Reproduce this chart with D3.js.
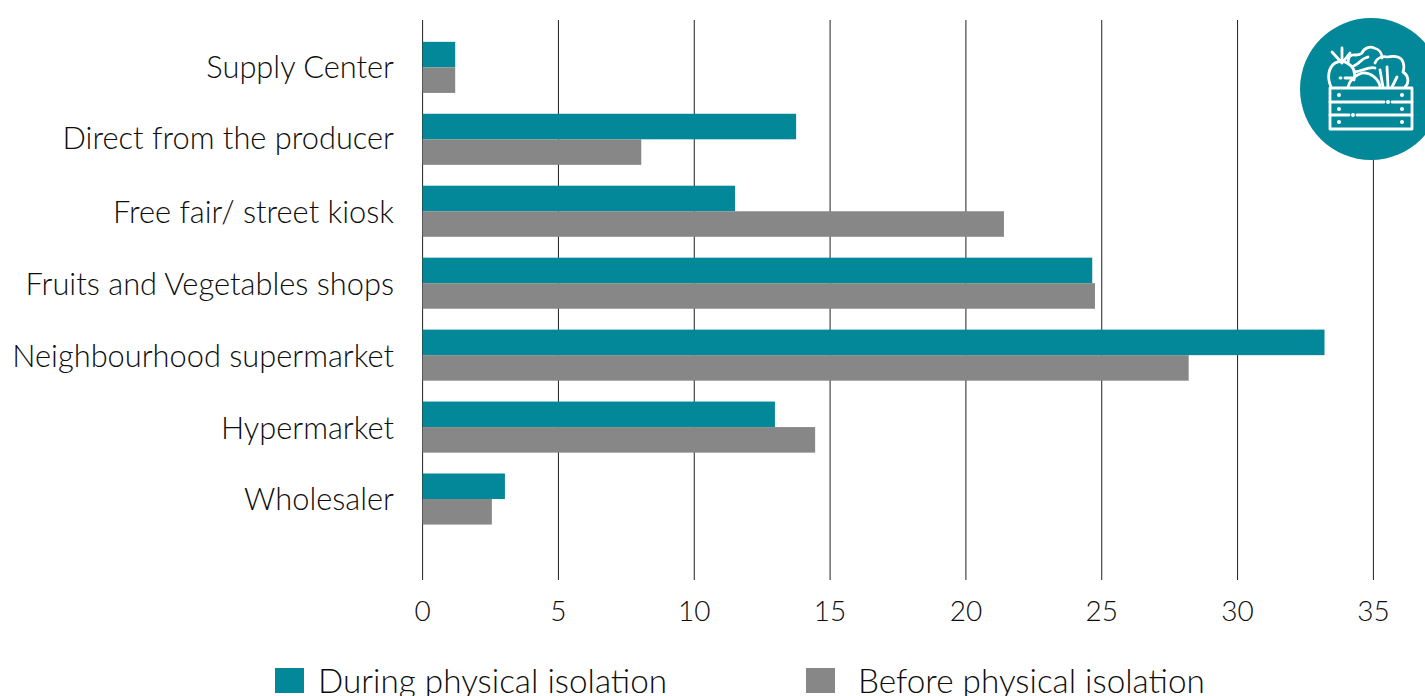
<!DOCTYPE html>
<html>
<head>
<meta charset="utf-8">
<script src="https://cdn.jsdelivr.net/npm/d3@7"></script>
<style>
html,body{margin:0;padding:0;background:#fff;overflow:hidden}
text{font-family:Lato,"Open Sans",sans-serif;font-weight:300;fill:#0d0d0d}
</style>
</head>
<body>
<svg id="chart" width="1425" height="696"></svg>
<script>
const categories = ["Supply Center","Direct from the producer","Free fair/ street kiosk","Fruits and Vegetables shops","Neighbourhood supermarket","Hypermarket","Wholesaler"];
const during = [1.2,13.75,11.5,24.65,33.2,12.97,3.03];
const before = [1.2,8.05,21.4,24.75,28.2,14.45,2.55];
const seriesNames = ["During physical isolation","Before physical isolation"];
const xTicks = [0,5,10,15,20,25,30,35];
const teal = "#038899", gray = "#878787";

const svg = d3.select("#chart");
const x = d3.scaleLinear().domain([0,35]).range([422.6,1373.4]);
const y = d3.scaleBand().domain(categories).range([31.4,535]).paddingInner(0.29).paddingOuter(0.145);

// vertical gridlines, running down past the plot as tick marks
const axis = d3.axisBottom(x).tickValues(xTicks).tickSize(560).tickPadding(21).offset(0).tickFormat(d3.format("d"));
const ax = svg.append("g").attr("transform","translate(0,20)").call(axis);
ax.select(".domain").remove();
ax.selectAll("line").attr("stroke","#1f1f1f").attr("stroke-width",1);
ax.selectAll("text").attr("font-size",28).style("fill","#0d0d0d");

// paired bars per category
const half = y.bandwidth()/2;
[[during,teal,0],[before,gray,1]].forEach(([vals,col,i])=>{
  svg.append("g").selectAll("rect").data(vals).join("rect")
    .attr("x",x(0)).attr("width",d=>x(d)-x(0))
    .attr("y",(d,j)=>y(categories[j])+i*half).attr("height",half)
    .attr("fill",col);
});

// category labels; a few sit slightly above their band centre
const labelLift = {"Supply Center":1,"Direct from the producer":2.5,"Wholesaler":1};
svg.append("g").selectAll("text").data(categories).join("text")
  .attr("x",394).attr("y",d=>y(d)+half+1-(labelLift[d]||0)).attr("dy","0.35em")
  .attr("text-anchor","end").attr("font-size",30.8).text(d=>d);

// legend
[[275,318,teal],[806,858,gray]].forEach(([sx,tx,col],i)=>{
  svg.append("rect").attr("x",sx).attr("y",668).attr("width",29).attr("height",25).attr("fill",col);
  svg.append("text").attr("x",tx).attr("y",693).attr("font-size",33.3).text(seriesNames[i]);
});

// crate badge
const badge = svg.append("g");
badge.append("circle").attr("cx",1371).attr("cy",89).attr("r",71).attr("fill",teal);
const ink = badge.append("g").attr("fill","none").attr("stroke","#fff").attr("stroke-width",2.8).attr("stroke-linejoin","round").attr("stroke-linecap","round");
// crate body and slats
ink.append("rect").attr("x",1330).attr("y",88).attr("width",82).attr("height",41);
ink.append("path").attr("d","M1330 102H1384M1392 102H1412M1330 115H1349M1357 115H1412");
badge.append("g").attr("fill","#fff").selectAll("circle")
  .data([[1339,95],[1402,95],[1339,109],[1402,109],[1339,122],[1402,122],[1388,102],[1353,115]])
  .join("circle").attr("cx",d=>d[0]).attr("cy",d=>d[1]).attr("r",2);
// carrot
ink.append("path").attr("d","M1331 87C1327 78 1328 68 1335 63C1339 61 1344 61 1347 63C1353 66 1356 72 1354 80");
ink.append("path").attr("d","M1342 63L1332 52M1342 63L1342 48M1342 63L1350 53");
ink.append("path").attr("d","M1340 78H1341M1345 78H1352");
// leafy greens
ink.append("path").attr("d","M1348 63C1348 57 1350 54 1356 55C1359 55 1361 54 1362 53C1364 48 1370 46 1374 48C1379 49 1382 53 1382 58");
ink.append("path").attr("d","M1375 63C1377 58 1382 56 1387 57C1392 56 1399 56 1402 60C1405 65 1404 69 1403 72C1408 75 1410 82 1405 87");
ink.append("path").attr("d","M1352 67C1356 65 1360 62 1362 60C1364 58 1366 58 1368 57M1355 72C1362 71 1370 66 1375 68");
// round vegetable
ink.append("path").attr("d","M1348 87C1350 79 1356 75 1362 73C1370 72 1378 78 1380 86");
// celery
ink.append("path").attr("d","M1380 70L1383 87M1387 67L1388 87M1397 77L1392 87");
</script>
</body>
</html>
